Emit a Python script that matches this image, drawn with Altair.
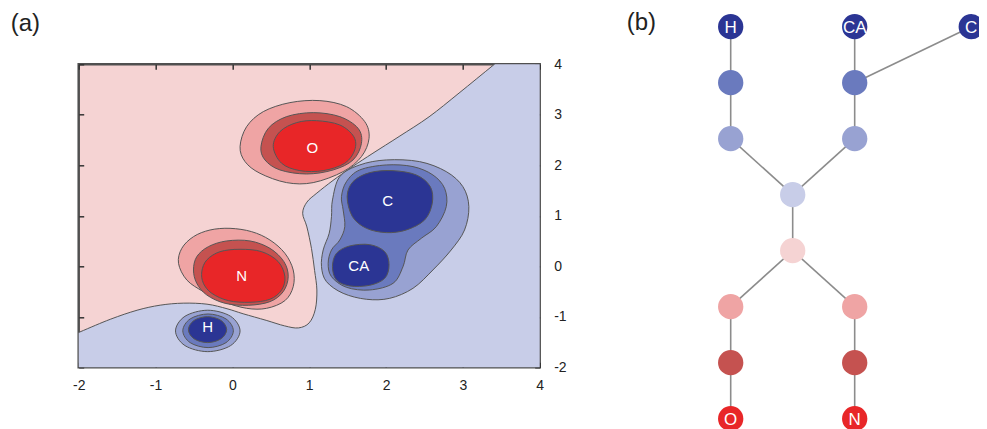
import altair as alt
import pandas as pd

# ---------------- panel (a): filled contour outlines, data units ----------------
AXIS_VALUES = [-2, -1, 0, 1, 2, 3, 4]

# zero contour (blue side is below/right); the last points run outside the frame and are clipped
zero_x = [-2.6, -2.0, -1.59, -1.24, -0.94, -0.64, -0.33, -0.07, 0.14, 0.44, 0.68, 0.86, 1.0, 1.08, 1.10,
          1.07, 1.03, 0.97, 0.915, 0.97, 1.1, 1.31, 1.57, 1.83, 2.17, 2.56, 2.95, 3.41, 3.9, 4.6, 4.6, -2.6]
zero_y = [-1.7, -1.31, -1.05, -0.87, -0.77, -0.73, -0.75, -0.84, -0.94, -1.07, -1.18, -1.22, -1.12, -0.85, -0.47,
          -0.08, 0.35, 0.78, 1.05, 1.27, 1.45, 1.70, 1.98, 2.24, 2.57, 2.96, 3.43, 4.0, 4.6, 4.6, -2.6, -2.6]

o1_x = [0.10, 0.186, 0.403, 0.749, 1.139, 1.485, 1.723, 1.779, 1.680, 1.442, 1.052, 0.706, 0.359, 0.165]
o1_y = [2.370, 2.766, 3.063, 3.241, 3.281, 3.162, 2.865, 2.535, 2.172, 1.875, 1.657, 1.657, 1.842, 2.073]
o2_x = [0.372, 0.468, 0.706, 1.052, 1.398, 1.636, 1.680, 1.571, 1.312, 0.965, 0.619, 0.424]
o2_y = [2.370, 2.733, 2.964, 3.043, 2.964, 2.733, 2.436, 2.106, 1.908, 1.828, 1.908, 2.106]
o3_x = [0.532, 0.619, 0.835, 1.095, 1.398, 1.580, 1.593, 1.463, 1.182, 0.879, 0.641]
o3_y = [2.370, 2.667, 2.845, 2.884, 2.799, 2.568, 2.304, 2.040, 1.894, 1.894, 2.040]

n1_x = [-0.701, -0.658, -0.506, -0.290, -0.030, 0.251, 0.489, 0.684, 0.792, 0.792, 0.684, 0.446, 0.186, -0.117, -0.377, -0.593]
n1_y = [0.059, 0.356, 0.587, 0.719, 0.752, 0.686, 0.521, 0.257, -0.073, -0.403, -0.680, -0.832, -0.832, -0.700, -0.502, -0.271]
n2_x = [-0.506, -0.463, -0.312, -0.074, 0.229, 0.489, 0.671, 0.727, 0.662, 0.489, 0.208, -0.095, -0.333, -0.463]
n2_y = [-0.073, 0.191, 0.389, 0.502, 0.502, 0.356, 0.092, -0.205, -0.502, -0.700, -0.772, -0.733, -0.568, -0.337]
n3_x = [-0.398, -0.333, -0.160, 0.100, 0.381, 0.597, 0.684, 0.641, 0.489, 0.229, -0.052, -0.268, -0.377]
n3_y = [-0.106, 0.125, 0.290, 0.337, 0.290, 0.092, -0.205, -0.469, -0.653, -0.713, -0.680, -0.535, -0.337]

h1_x = [-0.74, -0.617, -0.32, -0.023, 0.10, -0.023, -0.32, -0.617]
h1_y = [-1.28, -0.99, -0.87, -0.99, -1.28, -1.57, -1.69, -1.57]
h2_x = [-0.645, -0.549, -0.316, -0.083, 0.013, -0.083, -0.316, -0.549]
h2_y = [-1.277, -1.042, -0.944, -1.042, -1.277, -1.512, -1.61, -1.512]
h3_x = [-0.572, -0.499, -0.323, -0.147, -0.074, -0.147, -0.323, -0.499]
h3_y = [-1.254, -1.072, -0.997, -1.072, -1.254, -1.436, -1.511, -1.436]

cc1_x = [1.398, 1.658, 2.004, 2.437, 2.784, 3.0, 3.078, 3.022, 2.848, 2.610, 2.351, 2.048, 1.745, 1.442, 1.225, 1.160, 1.182, 1.260, 1.290, 1.303]
cc1_y = [1.776, 2.007, 2.106, 2.073, 1.875, 1.578, 1.182, 0.719, 0.323, -0.073, -0.436, -0.634, -0.653, -0.535, -0.304, -0.007, 0.323, 0.653, 0.983, 1.314]
cc2_x = [1.420, 1.485, 1.658, 2.004, 2.351, 2.610, 2.762, 2.784, 2.654, 2.459, 2.286, 2.221, 2.091, 1.788, 1.485, 1.290, 1.247, 1.290, 1.398, 1.463, 1.442]
cc2_y = [1.380, 1.677, 1.908, 2.007, 1.974, 1.809, 1.545, 1.182, 0.785, 0.554, 0.323, -0.007, -0.337, -0.469, -0.416, -0.205, 0.059, 0.323, 0.521, 0.785, 1.116]
c3_x = [1.494, 1.571, 1.788, 2.091, 2.394, 2.576, 2.602, 2.502, 2.264, 2.004, 1.745, 1.563]
c3_y = [1.380, 1.677, 1.855, 1.894, 1.809, 1.578, 1.248, 0.917, 0.719, 0.667, 0.752, 0.983]
ca3_x = [1.303, 1.355, 1.528, 1.788, 1.983, 2.039, 1.983, 1.788, 1.528, 1.355]
ca3_y = [-0.007, 0.257, 0.403, 0.429, 0.290, 0.026, -0.238, -0.376, -0.389, -0.271]

atom_labels = ["O", "N", "H", "C", "CA"]
atom_x = [1.04, 0.12, -0.32, 2.02, 1.645]
atom_y = [2.34, -0.19, -1.21, 1.30, 0.01]

LEVELS = ["r0", "r1", "r2", "r3", "b0", "b1", "b2", "b3"]
LEVEL_COLORS = ["#f5d3d3", "#efa4a4", "#c55250", "#e82628", "#c8cde8", "#98a2d2", "#6a7abe", "#2b3594"]

regions = [
    ("a0_zero", "b0", 0, zero_x, zero_y),
    ("b1_O", "r1", 1, o1_x, o1_y),
    ("b2_N", "r1", 1, n1_x, n1_y),
    ("b3_H", "b1", 1, h1_x, h1_y),
    ("b4_CC", "b1", 1, cc1_x, cc1_y),
    ("c1_O", "r2", 2, o2_x, o2_y),
    ("c2_N", "r2", 2, n2_x, n2_y),
    ("c3_H", "b2", 2, h2_x, h2_y),
    ("c4_CC", "b2", 2, cc2_x, cc2_y),
    ("d1_O", "r3", 3, o3_x, o3_y),
    ("d2_N", "r3", 3, n3_x, n3_y),
    ("d3_H", "b3", 3, h3_x, h3_y),
    ("d4_C", "b3", 3, c3_x, c3_y),
    ("d5_CA", "b3", 3, ca3_x, ca3_y),
]
rows = []
for name, level, depth, xs_, ys_ in regions:
    for i, (xv, yv) in enumerate(zip(xs_, ys_)):
        rows.append(dict(region=name, level=level, depth=depth, idx=i, x=xv, y=yv))
poly = pd.DataFrame(rows)

FONT = "Liberation Sans"
xs = alt.Scale(domain=[-2, 4], nice=False, zero=False)
ys = alt.Scale(domain=[-2, 4], nice=False, zero=False)
fill_scale = alt.Scale(domain=LEVELS, range=LEVEL_COLORS)

common_axis = dict(values=AXIS_VALUES, offset=-5, tickSize=5, tickWidth=1.5, tickColor="#333333",
                   domain=False, grid=False, title=None, labelFont=FONT, labelFontSize=14,
                   labelColor="#222222", labelFlush=False, labelExpr="'' + datum.value")
ax_bottom = alt.Axis(orient="bottom", labelPadding=11, **common_axis)
ax_right = alt.Axis(orient="right", labelPadding=14, labelAlign="left", **common_axis)
ax_top = alt.Axis(orient="top", labels=False, **common_axis)
ax_left = alt.Axis(orient="left", labels=False, **common_axis)

layers = []
for d in range(4):
    sub = poly[poly["depth"] == d]
    if d == 0:
        xe = alt.X("x:Q", scale=xs, axis=ax_bottom)
        ye = alt.Y("y:Q", scale=ys, axis=ax_right)
    else:
        xe = alt.X("x:Q", scale=xs, axis=None)
        ye = alt.Y("y:Q", scale=ys, axis=None)
    layers.append(
        alt.Chart(sub).mark_line(interpolate="cardinal-closed", stroke="#555555", strokeWidth=1, clip=True)
        .encode(x=xe, y=ye,
                fill=alt.Fill("level:N", scale=fill_scale, legend=None),
                detail="region:N", order="idx:Q")
    )

atoms = pd.DataFrame({"label": atom_labels, "x": atom_x, "y": atom_y})
atom_text = alt.Chart(atoms).mark_text(color="white", fontSize=15, font=FONT, baseline="middle").encode(
    x=alt.X("x:Q", scale=xs, axis=ax_top),
    y=alt.Y("y:Q", scale=ys, axis=ax_left),
    text="label:N",
)

tag_a = alt.Chart(pd.DataFrame({"t": ["(a)"]})).mark_text(
    fontSize=24, font=FONT, color="#222222", align="left", baseline="middle"
).encode(x=alt.value(-68), y=alt.value(-40), text="t:N")

chart_a = alt.layer(*layers, atom_text, tag_a).resolve_axis(x="independent", y="independent").properties(
    width=461, height=303,
    view=alt.ViewBackground(fill="#f5d3d3", stroke="#505050", strokeWidth=2.5),
)

# ---------------- panel (b): tree of nodes ----------------
node_col = [0, 0, 0, 2, 2, 2, 3.88, 1, 1, 0, 2, 0, 2, 0, 2]
node_row = [0, 1, 2, 0, 1, 2, 0, 3, 4, 5, 5, 6, 6, 7, 7]
node_level = ["b3", "b2", "b1", "b3", "b2", "b1", "b3", "b0", "r0", "r1", "r1", "r2", "r2", "r3", "r3"]
node_label = ["H", "", "", "CA", "", "", "C", "", "", "", "", "", "", "O", "N"]
edge_from = [0, 1, 2, 3, 4, 5, 6, 7, 8, 8, 9, 11, 10, 12]
edge_to = [1, 2, 7, 4, 5, 7, 4, 8, 9, 10, 11, 13, 12, 14]

nodes = pd.DataFrame({"col": node_col, "row": node_row, "level": node_level, "label": node_label})
edges = pd.DataFrame({
    "c1": [node_col[i] for i in edge_from], "r1": [node_row[i] for i in edge_from],
    "c2": [node_col[i] for i in edge_to], "r2": [node_row[i] for i in edge_to],
})

xb = alt.Scale(domain=[-1, 4], nice=False, zero=False)
yb = alt.Scale(domain=[0.672, 6.083], reverse=True, nice=False, zero=False)

edge_layer = alt.Chart(edges).mark_rule(color="#8c8c8c", strokeWidth=1.6).encode(
    x=alt.X("c1:Q", scale=xb, axis=None), y=alt.Y("r1:Q", scale=yb, axis=None),
    x2="c2:Q", y2="r2:Q",
)
node_layer = alt.Chart(nodes).mark_circle(size=640, opacity=1).encode(
    x=alt.X("col:Q", scale=xb, axis=None), y=alt.Y("row:Q", scale=yb, axis=None),
    color=alt.Color("level:N", scale=fill_scale, legend=None),
)
node_text = alt.Chart(nodes).mark_text(color="white", fontSize=17, font=FONT, baseline="middle", dy=1).encode(
    x=alt.X("col:Q", scale=xb, axis=None), y=alt.Y("row:Q", scale=yb, axis=None),
    text="label:N",
)
tag_b = alt.Chart(pd.DataFrame({"t": ["(b)"]})).mark_text(
    fontSize=24, font=FONT, color="#222222", align="left", baseline="middle"
).encode(x=alt.value(-42), y=alt.value(-41), text="t:N")

chart_b = alt.layer(edge_layer, node_layer, node_text, tag_b).properties(
    width=310, height=303, view=alt.ViewBackground(stroke="transparent")
)

chart = alt.hconcat(chart_a, chart_b, spacing=129, bounds="flush").properties(
    autosize=alt.AutoSizeParams(type="none"),
    padding={"left": 70.7, "top": 56.3, "right": 900, "bottom": 356},
)

chart.save("out.html", embed_options={"renderer": "svg", "actions": False})
